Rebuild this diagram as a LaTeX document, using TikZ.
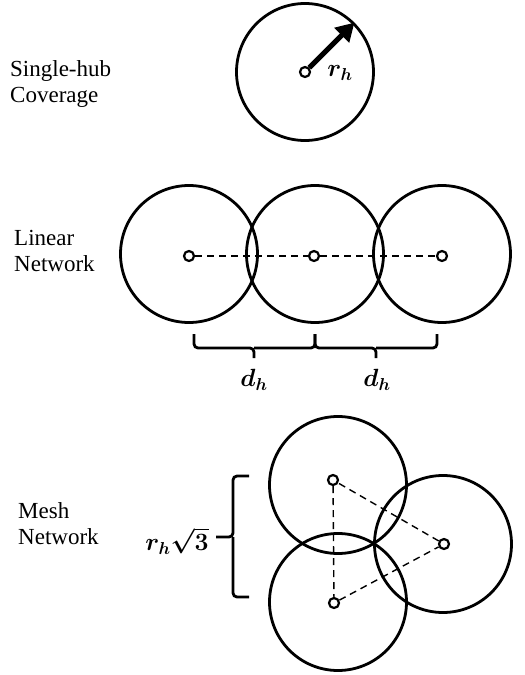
\documentclass[tikz,border=0pt]{standalone}
\usepackage{fontspec}
\setmainfont{Liberation Serif}
\usepackage{amsmath}
\usepackage{bm}
\usetikzlibrary{arrows.meta}
\begin{document}
\begin{tikzpicture}[x=1pt,y=-1pt,
  hub/.style={circle,draw,line width=2.8pt,minimum size=137pt,inner sep=0pt},
  dot/.style={circle,draw,line width=2.2pt,fill=white,minimum size=10pt,inner sep=0pt},
  link/.style={line width=1.7pt,dash pattern=on 7pt off 5pt},
  meshlink/.style={line width=1.4pt,dash pattern=on 7pt off 5pt},
  bracestyle/.style={line width=2.8pt,rounded corners=4pt},
  label/.style={align=left,anchor=west,inner sep=0pt,font=\fontsize{23}{26}\selectfont},
  mlabel/.style={inner sep=0pt,font=\fontsize{26}{30}\selectfont},
  slabel/.style={inner sep=0pt,font=\fontsize{23}{27}\selectfont}]
\useasboundingbox (0,0) rectangle (525,675);

% Single hub
\node[label] (t1) at (10,84) {Single-hub\\Coverage};
\node[hub] (c0) at (305,72) {};
\node[dot] (d0) at (305,72) {};
\draw[line width=5pt,-{Triangle[length=18pt,width=20pt]}] (d0) -- (c0.45);
\node[mlabel] (rh) at (340,73) {$\bm{r_h}$};

% Linear
\node[label] (t2) at (14,251) {Linear\\Network};
\node[hub] (l1c) at (189,254) {};
\node[hub] (l2c) at (315,254) {};
\node[hub] (l3c) at (442,254) {};
\node[dot] (l1) at (189,256) {};
\node[dot] (l2) at (314,256) {};
\node[dot] (l3) at (442,256) {};
\draw[link] (l1) -- (l2);
\draw[link] (l2) -- (l3);
\coordinate (b1) at (194,334);
\coordinate (b1t) at (254,358);
\coordinate (b2) at (315,334);
\coordinate (b2t) at (376,358);
\coordinate (b3) at (437,334);
\draw[bracestyle] (b1) |- (254,348) -- (b1t);
\draw[bracestyle] (b2) |- (254,348);
\draw[bracestyle] (b2) |- (376,348) -- (b2t);
\draw[bracestyle] (b3) |- (376,348);
\node[mlabel] (dh1) at (254,380) {$\bm{d_h}$};
\node[mlabel] (dh2) at (377,380) {$\bm{d_h}$};

% Mesh
\node[label] (t3) at (18,524) {Mesh\\Network};
\node[hub] (m1c) at (338,485) {};
\node[hub] (m2c) at (338,602) {};
\node[hub] (m3c) at (443,544) {};
\node[dot] (m1) at (333,480) {};
\node[dot] (m2) at (334,603) {};
\node[dot] (m3) at (444,544) {};
\draw[meshlink] (m1) -- (m2);
\draw[meshlink] (m2) -- (m3);
\draw[meshlink] (m3) -- (m1);
\coordinate (mb1) at (249,476);
\coordinate (mb2) at (249,597);
\coordinate (mbt) at (216,537);
\draw[bracestyle] (mb1) -| (233,537) -- (mbt);
\draw[bracestyle] (mb2) -| (233,537);
\node[slabel] (r3) at (177,541) {$\bm{r_h\sqrt{3}}$};
\end{tikzpicture}
\end{document}
